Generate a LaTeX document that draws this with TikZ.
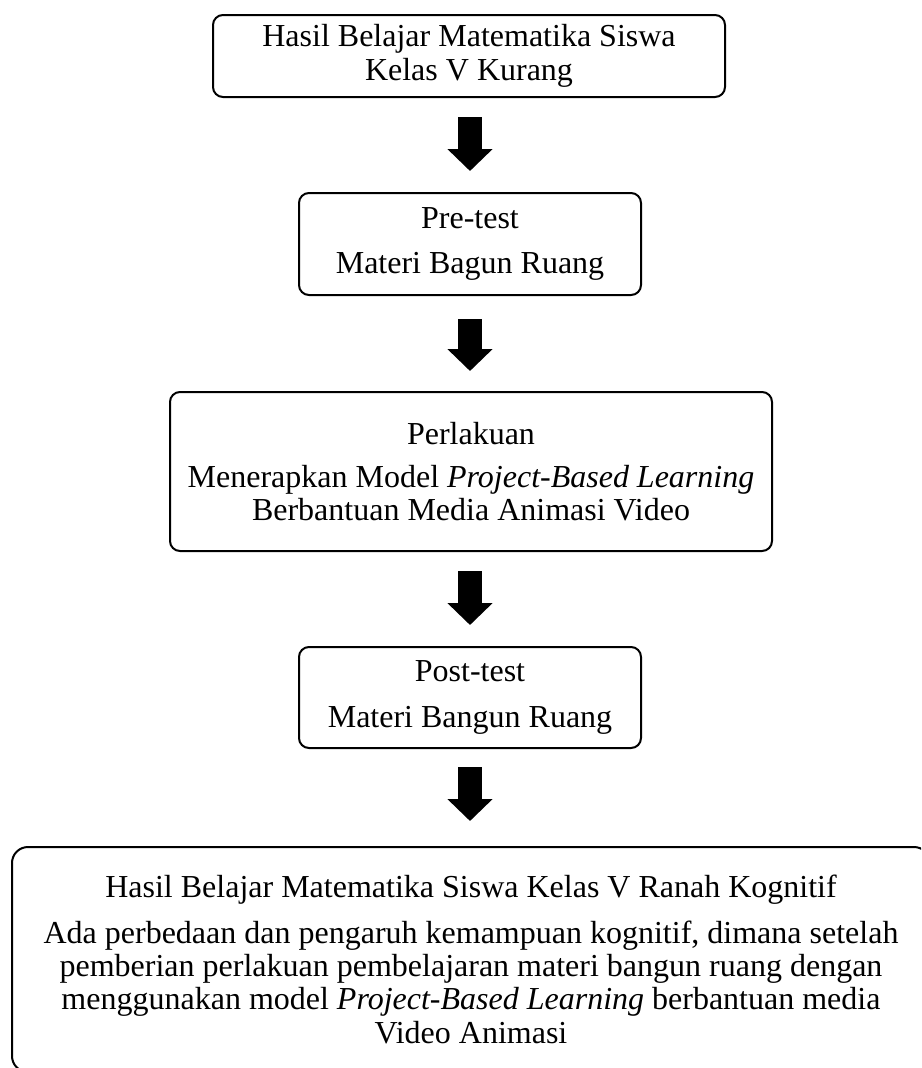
\documentclass[tikz,border=0pt]{standalone}
\usepackage{fontspec}
\setmainfont{Liberation Serif}
\usetikzlibrary{arrows.meta}
\tikzset{
  flowbox/.style={draw=black, line width=2pt, rounded corners=10pt, align=center,
    inner sep=0pt, font=\fontsize{32}{33.3}\selectfont},
  bigbox/.style={flowbox, rounded corners=16pt},
  blockarrow/.style={line width=24pt, -{Triangle[width=44pt,length=22pt]}, black}
}
\begin{document}
\begin{tikzpicture}[x=1pt,y=-1pt]
\useasboundingbox (0,0) rectangle (921,1068);
\clip (0,0) rectangle (921,1068);
\node[flowbox, minimum width=512pt, minimum height=82pt] (b1) at (469,56)
  {Hasil Belajar Matematika Siswa\\ Kelas V Kurang};
\node[flowbox, minimum width=342pt, minimum height=102pt] (b2) at (470,244)
  {Pre-test\\[12pt] Materi Bagun Ruang};
\node[flowbox, minimum width=602pt, minimum height=159pt] (b3) at (471,471.5)
  {Perlakuan\\[10pt] Menerapkan Model \textit{Project-Based Learning}\\ Berbantuan Media Animasi Video};
\node[flowbox, minimum width=342pt, minimum height=101pt] (b4) at (470,697.5)
  {Post-test\\[12pt] Materi Bangun Ruang};
\node[bigbox, minimum width=918pt, minimum height=225pt] (b5) at (471,959.5)
  {Hasil Belajar Matematika Siswa Kelas V Ranah Kognitif\\[12pt]
   Ada perbedaan dan pengaruh kemampuan kognitif, dimana setelah\\
   pemberian perlakuan pembelajaran materi bangun ruang dengan\\
   menggunakan model \textit{Project-Based Learning} berbantuan media\\
   Video Animasi};
\draw[blockarrow, shorten <=19pt, shorten >=21pt] (b1.south -| b2.north) -- (b2.north);
\draw[blockarrow, shorten <=23pt, shorten >=20pt] (b2.south) -- (b3.north -| b2.south);
\draw[blockarrow, shorten <=19pt, shorten >=21pt] (b3.south -| b4.north) -- (b4.north);
\draw[blockarrow, shorten <=18pt, shorten >=25pt] (b4.south) -- (b5.north -| b4.south);
\end{tikzpicture}
\end{document}
